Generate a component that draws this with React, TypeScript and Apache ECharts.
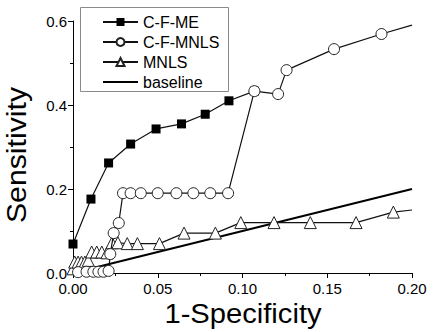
import React, { useEffect, useRef } from "react";
import * as echarts from "echarts";

const cfmeX = [0, 0.0106, 0.021, 0.034, 0.049, 0.064, 0.078, 0.092, 0.107];
const cfmeY = [0.069, 0.176, 0.262, 0.307, 0.343, 0.355, 0.378, 0.41, 0.433];

const cfmnlsX = [0.003, 0.008, 0.012, 0.015, 0.018, 0.021, 0.022, 0.024, 0.027, 0.0295, 0.034, 0.04, 0.05, 0.061, 0.071, 0.081, 0.0915, 0.107, 0.121, 0.126, 0.154, 0.182, 0.2];
const cfmnlsY = [0.002, 0.003, 0.003, 0.003, 0.003, 0.005, 0.045, 0.095, 0.119, 0.19, 0.19, 0.19, 0.19, 0.19, 0.19, 0.19, 0.19, 0.433, 0.426, 0.483, 0.533, 0.569, 0.59];

const mnlsX = [0, 0.001, 0.003, 0.005, 0.007, 0.009, 0.011, 0.014, 0.017, 0.02, 0.023, 0.0265, 0.032, 0.038, 0.051, 0.0655, 0.084, 0.099, 0.1186, 0.14, 0.167, 0.189, 0.2];
const mnlsY = [0.01, 0.026, 0.026, 0.026, 0.026, 0.03, 0.05, 0.05, 0.05, 0.048, 0.072, 0.072, 0.07, 0.07, 0.07, 0.095, 0.095, 0.12, 0.12, 0.12, 0.12, 0.145, 0.15];

const baseX = [0, 0.2];
const baseY = [0, 0.2];

const xTicks = { min: 0, max: 0.2, interval: 0.05 };
const yTicks = { min: 0, max: 0.6, interval: 0.2 };

const seriesNames = ["C-F-ME", "C-F-MNLS", "MNLS", "baseline"];
const xTitle = "1-Specificity";
const yTitle = "Sensitivity";

const FONT = "Liberation Sans, Arial, sans-serif";

function pairs(xs: number[], ys: number[], lastNoSymbol = false) {
  return xs.map((x, i) => {
    if (lastNoSymbol && i === xs.length - 1) return { value: [x, ys[i]], symbol: "none" };
    return { value: [x, ys[i]] };
  });
}

export default function App() {
  const ref = useRef<HTMLDivElement>(null);
  useEffect(() => {
    if (!ref.current) return;
    const chart = echarts.init(ref.current, null, { renderer: "svg" });
    chart.setOption({
      animation: false,
      backgroundColor: "#fff",
      textStyle: { fontFamily: FONT },
      grid: { left: 73, right: 23, top: 21, bottom: 59, containLabel: false, outerBoundsMode: "none" },
      graphic: [
        {
          type: "rect",
          shape: { x: 80.5, y: 7.5, width: 148, height: 84 },
          style: { fill: "#fff", stroke: "#8a8a8a", lineWidth: 1 },
          z: 10,
        },
        {
          type: "text",
          x: 243,
          y: 300,
          scaleX: 1.08,
          style: { text: xTitle, fontSize: 27, fontFamily: FONT, fill: "#000", align: "center", verticalAlign: "top" },
          z: 10,
        },
        {
          type: "text",
          x: 17,
          y: 155,
          rotation: Math.PI / 2,
          scaleX: 1.12,
          style: { text: yTitle, fontSize: 27, fontFamily: FONT, fill: "#000", align: "center", verticalAlign: "middle" },
          z: 10,
        },
      ],
      legend: {
        data: seriesNames.map((n) => (n === "baseline" ? { name: n, itemStyle: { opacity: 0 } } : { name: n })),
        orient: "vertical",
        left: 80,
        top: 9,
        padding: [5, 8, 4, 22],
        itemGap: 4,
        itemWidth: 35,
        itemHeight: 10,
        z: 20,
        textStyle: { fontSize: 16, color: "#000", fontFamily: FONT },
      },
      xAxis: {
        type: "value",
        ...xTicks,
        axisLine: { show: true, lineStyle: { color: "#000", width: 1 } },
        axisTick: { show: true, length: 5, lineStyle: { color: "#000" } },
        minorTick: { show: true, splitNumber: 2, length: 3, lineStyle: { color: "#000" } },
        splitLine: { show: false },
        axisLabel: { fontSize: 15, color: "#000", margin: 8, formatter: (v: number) => v.toFixed(2) },
      },
      yAxis: {
        type: "value",
        ...yTicks,
        axisLine: { show: true, lineStyle: { color: "#000", width: 1 } },
        axisTick: { show: true, length: 5, lineStyle: { color: "#000" } },
        minorTick: { show: true, splitNumber: 2, length: 3, lineStyle: { color: "#000" } },
        splitLine: { show: false },
        axisLabel: { fontSize: 15, color: "#000", margin: 6, formatter: (v: number) => v.toFixed(1) },
      },
      series: [
        {
          name: "baseline",
          type: "line",
          data: pairs(baseX, baseY),
          symbol: "none",
          symbolSize: 0,
          lineStyle: { color: "#000", width: 2 },
          itemStyle: { color: "#000" },
          z: 2,
        },
        {
          name: "MNLS",
          type: "line",
          data: pairs(mnlsX, mnlsY, true),
          symbol: "triangle",
          symbolSize: 12,
          lineStyle: { color: "#111", width: 1.2 },
          itemStyle: { color: "#fff", borderColor: "#222", borderWidth: 1 },
          z: 3,
        },
        {
          name: "C-F-ME",
          type: "line",
          data: pairs(cfmeX, cfmeY),
          symbol: "rect",
          symbolSize: 9,
          lineStyle: { color: "#111", width: 1.2 },
          itemStyle: { color: "#000", borderColor: "#000", borderWidth: 0 },
          z: 4,
        },
        {
          name: "C-F-MNLS",
          type: "line",
          data: pairs(cfmnlsX, cfmnlsY, true),
          symbol: "circle",
          symbolSize: 11,
          lineStyle: { color: "#111", width: 1.2 },
          itemStyle: { color: "#fff", borderColor: "#222", borderWidth: 1 },
          z: 5,
        },
      ],
    });
    return () => chart.dispose();
  }, []);
  return <div ref={ref} style={{ width: 435, height: 332, position: "absolute", left: 0, top: 0 }} />;
}
